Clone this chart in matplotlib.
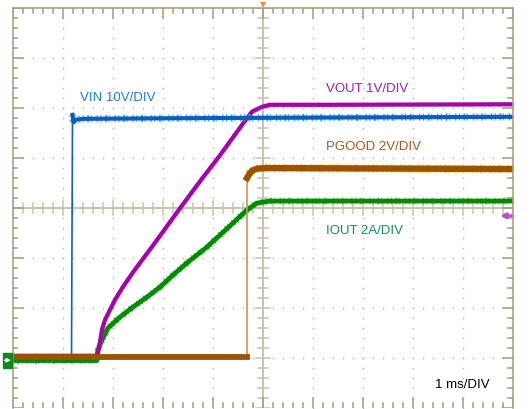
import numpy as np
import matplotlib
matplotlib.use('Agg')
import matplotlib.pyplot as plt
from matplotlib.patches import Rectangle

plt.rcParams['font.family'] = ['Liberation Sans', 'DejaVu Sans']
plt.rcParams['lines.scale_dashes'] = False

# time in ms (1 ms/div, 0 = screen centre)
t_vin = [-5.0, -3.82, -3.80, -3.78, -3.74, -3.60, -2.0, 0.0, 2.5, 5.0]
vin = [0.0, 0.0, 48.7, 47.2, 47.7, 47.9, 48.0, 48.1, 48.2, 48.3]   # V

t_vout = [-5.0, -3.33, -3.29, -3.25, -3.21, -3.15, -3.05, -2.95, -2.79, -2.59, -2.39,
          -2.21, -2.05, -1.65, -1.25, -0.85, -0.35, -0.21, -0.11, -0.01, 0.15, 1.35, 5.0]
vout = [0.05, 0.05, 0.13, 0.33, 0.57, 0.77, 0.97, 1.17, 1.43, 1.72, 1.99,
        2.23, 2.45, 3.00, 3.54, 4.06, 4.75, 4.93, 4.98, 5.03, 5.07, 5.07, 5.08]  # V

t_pg = [-5.0, -0.31, -0.31, -0.25, -0.19, -0.09, 0.09, 5.0]
pgood = [0.07, 0.07, 7.21, 7.41, 7.53, 7.59, 7.61, 7.57]   # V

t_io = [-5.0, -3.31, -3.29, -3.21, -3.09, -2.85, -2.59, -2.31, -2.05, -1.79,
        -1.49, -1.11, -0.59, -0.31, -0.11, 0.15, 5.0]
iout = [-0.09, -0.09, 0.33, 0.73, 1.21, 1.65, 2.05, 2.45, 2.85, 3.33,
        3.85, 4.45, 5.41, 5.93, 6.21, 6.29, 6.29]   # A

# volts (amps) per division, all channels referenced 3 div below centre
scale = {'vin': 10, 'vout': 1, 'pgood': 2, 'iout': 2}
gnd = -3


def to_div(vals, s):
    return np.array(vals) / s + gnd


fig = plt.figure(figsize=(5.3, 4.09), dpi=100)
ax = fig.add_axes([12.5 / 530, 0.7 / 409, 500 / 530, 400 / 409])
ax.set_xlim(-5, 5)
ax.set_ylim(-4, 4)
ax.set_xticks([])
ax.set_yticks([])
border = '#a39d78'
for side in ['left', 'right', 'top']:
    ax.spines[side].set_color(border)
    ax.spines[side].set_linewidth(1.1)
ax.spines['bottom'].set_visible(False)

# dotted graticule
minor = np.arange(-5, 5.001, 0.2)
minor_y = np.arange(-4, 4.001, 0.2)
for gx in range(-4, 5):
    if gx != 0:
        ax.plot(np.full(len(minor_y), gx), minor_y, ls='', marker='s', ms=1.0,
                color='#b9b49a', mew=0)
for gy in range(-3, 4):
    if gy != 0:
        ax.plot(minor, np.full(len(minor), gy), ls='', marker='s', ms=1.0,
                color='#b9b49a', mew=0)

# centre lines with ticks
ax.axvline(0, color='#c8c3ab', lw=1.4)
ax.axhline(0, color='#c8c3ab', lw=1.4)
for y in minor_y:
    h = 0.14 if abs(y - round(y)) < 1e-6 else 0.1
    ax.plot([-h, h], [y, y], color='#c8c3ab', lw=1.1)
for x in minor:
    h = 0.14 if abs(x - round(x)) < 1e-6 else 0.1
    ax.plot([x, x], [-h, h], color='#c8c3ab', lw=1.1)

# border ticks
for y in minor_y:
    L = 0.2 if abs(y - round(y)) < 1e-6 else 0.1
    ax.plot([-5, -5 + L], [y, y], color=border, lw=1.1)
    ax.plot([5, 5 - L], [y, y], color=border, lw=1.1)
for x in minor:
    L = 0.2 if abs(x - round(x)) < 1e-6 else 0.1
    ax.plot([x, x], [4, 4 - L], color=border, lw=1.1)
    ax.plot([x, x], [-4, -4 + L], color=border, lw=1.1)

# traces (dashed underlays give the scope's noise speckle)
speck = (0, (0.8, 2.5, 1.5, 1.2, 0.6, 3.5, 1.0, 1.8))
io = to_div(iout, scale['iout'])
ax.plot(t_io, io, color='#3ddc3d', lw=4.8, ls=speck)
ax.plot(t_io, io, color='#008a00', lw=3.4, solid_joinstyle='round')

vo = to_div(vout, scale['vout'])
ax.plot(t_vout, vo, color='#e070e0', lw=3.6, ls=speck, alpha=0.6)
ax.plot(t_vout, vo, color='#a400ac', lw=3.0, solid_joinstyle='round')

vi = to_div(vin, scale['vin'])
ax.plot(t_vin, vi, color='#1060c0', lw=1.2)
ax.plot(t_vin[2:], vi[2:], color='#24c4e8', lw=5.2, ls=speck)
ax.plot(t_vin[2:], vi[2:], color='#0f5cc0', lw=3.0)

pg = to_div(pgood, scale['pgood'])
ax.plot(t_pg, pg, color='#c8945a', lw=1.2)
ax.plot(t_pg[2:], pg[2:], color='#e2da00', lw=6.0, ls=speck)
ax.plot(t_pg[:2], pg[:2], color='#9c5200', lw=4.2)
ax.plot(t_pg[2:], pg[2:], color='#9c5200', lw=4.6, solid_joinstyle='round')

# labels
fs = 9.5
ax.text(-3.65, 2.15, 'VIN 10V/DIV', color='#1f7fcf', fontsize=fs)
ax.text(1.27, 2.33, 'VOUT 1V/DIV', color='#a21fa8', fontsize=fs)
ax.text(1.27, 1.17, 'PGOOD 2V/DIV', color='#a4592a', fontsize=fs)
ax.text(1.27, -0.51, 'IOUT 2A/DIV', color='#1d8a5c', fontsize=fs)
ax.text(3.45, -3.59, '1 ms/DIV', color='black', fontsize=fs)

# markers
ax.add_patch(Rectangle((-5.19, -3.19), 0.18, 0.30, color='#0a8a1a', clip_on=False, zorder=5))
ax.annotate('', xy=(-5.03, -3.04), xytext=(-5.16, -3.04),
            arrowprops=dict(arrowstyle='-|>', color='white', lw=1.0, mutation_scale=6,
                            shrinkA=0, shrinkB=0),
            annotation_clip=False, zorder=6)
ax.annotate('', xy=(4.75, -0.15), xytext=(4.98, -0.15),
            arrowprops=dict(arrowstyle='-|>', color='#c24cc2', lw=2.2, mutation_scale=7,
                            shrinkA=0, shrinkB=0),
            annotation_clip=False)
ax.plot([0], [4.07], marker='v', ms=5, color='#ff8a30', mew=0, clip_on=False)

fig.savefig('out.png', dpi=100)
